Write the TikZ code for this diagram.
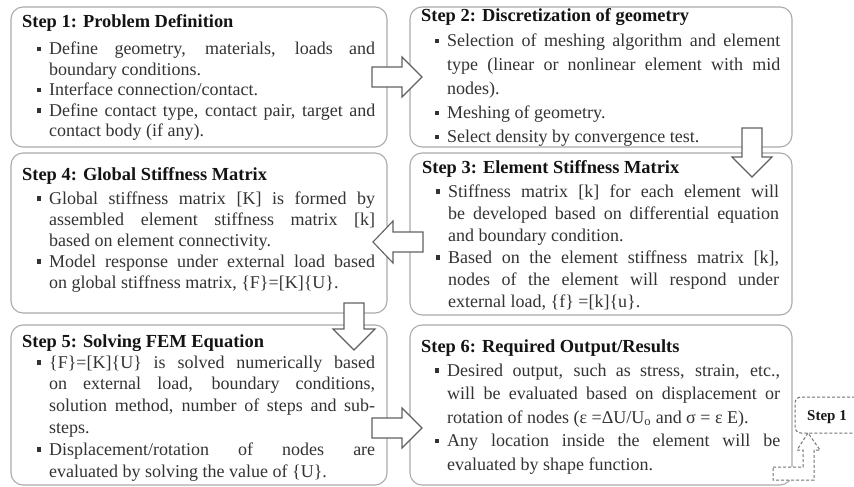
\documentclass[tikz,border=0pt]{standalone}
\usepackage{fontspec}
\setmainfont{Liberation Serif}
\newcommand\fbul{\noindent\color{black!80}\llap{\rule[3.5pt]{4.5pt}{4.5pt}\hspace{8pt}}}
\newcommand\bul{\par\fbul}
\newcommand\bodyset[1]{\parindent=0pt\leftskip=#1pt\rightskip=0pt\tolerance=10000\hbadness=10000\lineskiplimit=-100pt\parfillskip=0pt plus 1fil\relax}
\begin{document}
\begin{tikzpicture}[x=1pt,y=-1pt,
  stepbox/.style={draw=black!33, line width=1.1pt, rounded corners=12pt, fill=white},
  blockarrow/.style={draw=black!62, line width=1.1pt, fill=white, line join=miter},
  dasharrow/.style={draw=black!55, line width=1pt, dash pattern=on 3pt off 2pt},
  steptitle/.style={anchor=base west, inner sep=0pt, font=\fontsize{18.4}{22}\selectfont\bfseries, text=black!92},
  stepbody/.style={anchor=base west, inner sep=0pt, text width=#1pt, align=justify},
]
\useasboundingbox (0,0) rectangle (854,487);
\clip (0,0) rectangle (854,487);
\fill[white] (0,0) rectangle (854,487);

% boxes
\draw[stepbox] (11,7) rectangle (387,147);
\draw[stepbox] (410,7) rectangle (792,147);
\draw[stepbox] (410,153) rectangle (792,315);
\draw[stepbox] (11,153) rectangle (387,313);
\draw[stepbox] (11,325) rectangle (387,485);
\draw[stepbox] (410,325) rectangle (792,485);

% Step 1
\node[steptitle] (t1) at (22,28) {Step 1: Problem Definition};
\node[stepbody=353, font=\fontsize{18}{20.5}\selectfont] (b1) at (22,55) {\bodyset{27}%
\fbul Define geometry, materials, loads and\linebreak boundary conditions.
\bul Interface connection/contact.
\bul Define contact type, contact pair, target and\linebreak contact body (if any).\par};

% Step 2
\node[steptitle] (t2) at (421,22) {Step 2: Discretization of geometry};
\node[stepbody=359, font=\fontsize{18}{24}\selectfont] (b2) at (421,47) {\bodyset{26}%
\fbul Selection of meshing algorithm and element\linebreak type (linear or nonlinear element with mid\linebreak nodes).
\bul Meshing of geometry.
\bul Select density by convergence test.\par};

% Step 3
\node[steptitle] (t3) at (422,173) {Step 3: Element Stiffness Matrix};
\node[stepbody=357, font=\fontsize{18}{22}\selectfont] (b3) at (422,197) {\bodyset{26}%
\fbul Stiffness matrix [k] for each element will\linebreak be developed based on differential equation\linebreak and boundary condition.
\bul Based on the element stiffness matrix [k],\linebreak nodes of the element will respond under\linebreak external load, \{f\} =[k]\{u\}.\par};

% Step 4
\node[steptitle] (t4) at (22,180) {Step 4: Global Stiffness Matrix};
\node[stepbody=353, font=\fontsize{18}{21}\selectfont] (b4) at (22,204) {\bodyset{27}%
\fbul Global stiffness matrix [K] is formed by\linebreak assembled element stiffness matrix [k]\linebreak based on element connectivity.
\bul Model response under external load based\linebreak on global stiffness matrix, \{F\}=[K]\{U\}.\par};

% Step 5
\node[steptitle] (t5) at (22,347) {Step 5: Solving FEM Equation};
\node[stepbody=353, font=\fontsize{18}{21.8}\selectfont] (b5) at (22,368) {\bodyset{27}%
\fbul \{F\}=[K]\{U\} is solved numerically based\linebreak on external load, boundary conditions,\linebreak solution method, number of steps and sub-\linebreak steps.
\bul Displacement/rotation of nodes are\linebreak evaluated by solving the value of \{U\}.\par};

% Step 6
\node[steptitle] (t6) at (421,352) {Step 6: Required Output/Results};
\node[stepbody=359, font=\fontsize{18}{23.5}\selectfont] (b6) at (421,376) {\bodyset{26}%
\fbul Desired output, such as stress, strain, etc.,\linebreak will be evaluated based on displacement or\linebreak rotation of nodes (ε =ΔU/U\textsubscript{o} and σ = ε E).
\bul Any location inside the element will be\linebreak evaluated by shape function.\par};

% block arrows
\draw[blockarrow] (372,67) -- (402,67) -- (402,57) -- (422,77) -- (402,97) -- (402,87) -- (372,87) -- cycle;
\draw[blockarrow] (742,128) -- (762,128) -- (762,157) -- (772,157) -- (752,177) -- (732,157) -- (742,157) -- cycle;
\draw[blockarrow] (423,232) -- (393,232) -- (393,221) -- (373,242) -- (393,263) -- (393,252) -- (423,252) -- cycle;
\draw[blockarrow] (344,303) -- (364,303) -- (364,329) -- (375,329) -- (354,350) -- (333,329) -- (344,329) -- cycle;
\draw[blockarrow] (372,418) -- (402,418) -- (402,408) -- (422,428) -- (402,448) -- (402,438) -- (372,438) -- cycle;

% back to step 1
\draw[dasharrow, rounded corners=6pt] (880,397) -- (795,397) -- (795,433) -- (880,433);
\node[anchor=base, inner sep=0pt, font=\fontsize{15}{18}\selectfont\bfseries, text=black!90] (back) at (827,420) {Step 1};
\draw[dasharrow, fill=white] (773,467) -- (803,467) -- (803,450) -- (797,450) -- (808,433) -- (820,450) -- (814,450) -- (814,480) -- (773,480) -- cycle;
\end{tikzpicture}
\end{document}
